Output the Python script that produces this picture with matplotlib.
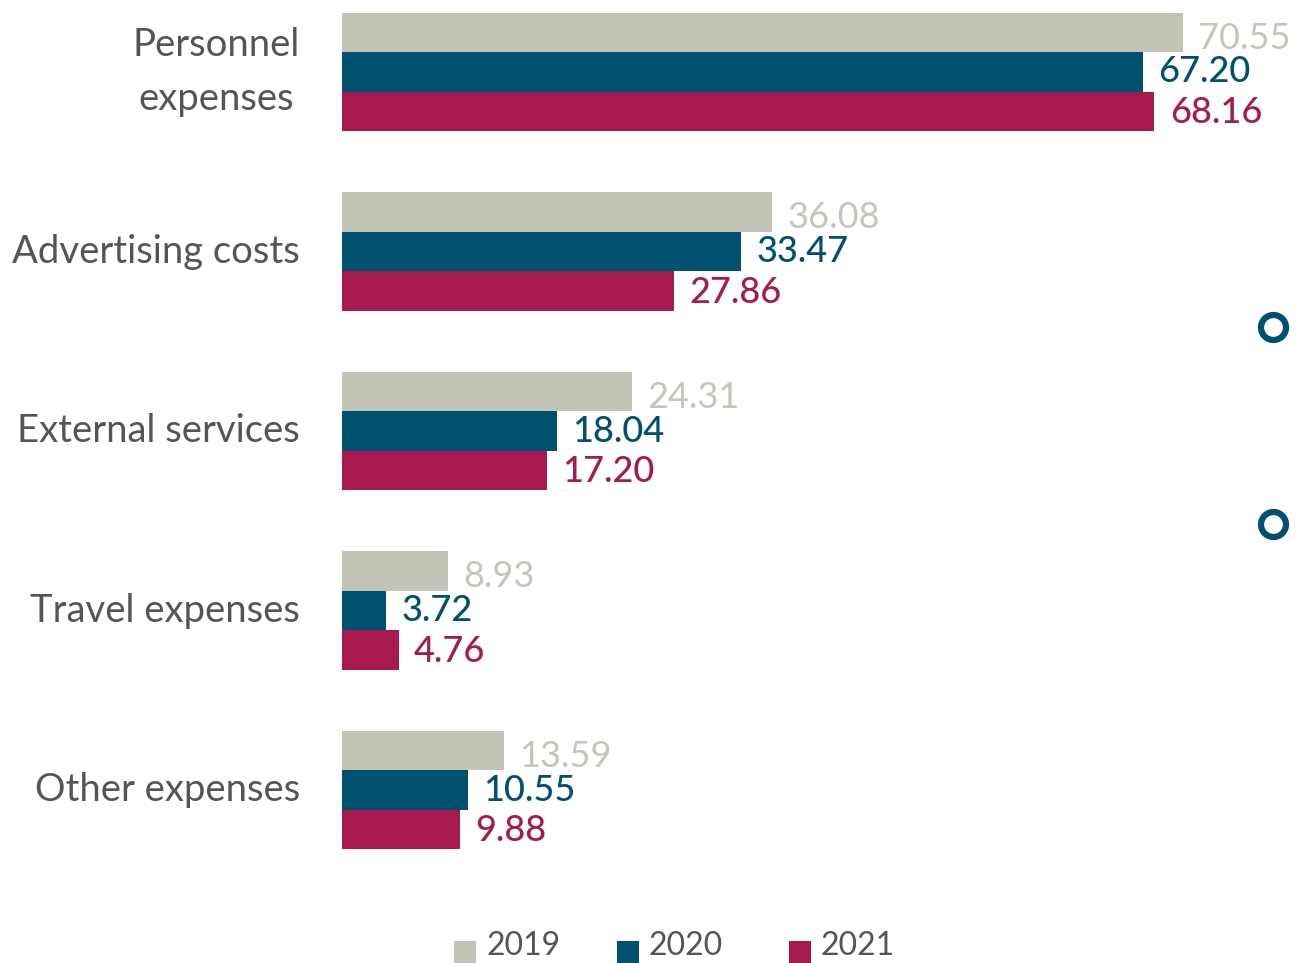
import matplotlib
matplotlib.use("Agg")
import matplotlib.pyplot as plt
from matplotlib.lines import Line2D
from matplotlib.patches import Rectangle
import numpy as np

categories = ["Personnel\nexpenses", "Advertising costs", "External services",
              "Travel expenses", "Other expenses"]
years = ["2019", "2020", "2021"]
values_2019 = [70.55, 36.08, 24.31, 8.93, 13.59]
values_2020 = [67.20, 33.47, 18.04, 3.72, 10.55]
values_2021 = [68.16, 27.86, 17.20, 4.76, 9.88]

colors = ["#c1c4b6", "#00506f", "#a81a4f"]
label_colors = ["#c4c6b9", "#00506f", "#a81a4f"]
text_gray = "#555555"
FONT = "Lato"

W, H = 1301, 963
fig = plt.figure(figsize=(W / 100, H / 100), dpi=100)
ax = fig.add_axes([342 / W, 0, 1 - 342 / W, 1])

px_per_unit = 11.92
xmax = (W - 342) / px_per_unit
spacing = 179.5
ylim_top = -72 / spacing
ylim_bot = 4 + (H - 790) / spacing
ax.set_xlim(0, xmax)
ax.set_ylim(ylim_bot, ylim_top)

bar_h = 39.5 / spacing
y = np.arange(len(categories))
series = [values_2019, values_2020, values_2021]
dy = [-4, 0, -1]
for i, vals in enumerate(series):
    offs = (i - 1) * bar_h
    ax.barh(y + offs, vals, height=bar_h, color=colors[i], linewidth=0)
    for yy, v in zip(y + offs, vals):
        ax.annotate(f"{v:.2f}", xy=(v, yy), xytext=(11, dy[i]),
                    textcoords="offset points", va="center", ha="left",
                    fontsize=26, color=label_colors[i], family=FONT,
                    fontweight="normal" if i == 0 else "medium")

for yy, cat in zip(y, categories):
    ax.text(-(42 / px_per_unit), yy, cat, ha="right", va="center",
            fontsize=27.5, color=text_gray, family=FONT, fontweight="normal",
            linespacing=1.6, multialignment="center")

ax.axis("off")

# decorative ring markers on the right
for cy in (327, 524):
    fig.add_artist(Line2D([1273 / W], [1 - cy / H], marker="o", markersize=18,
                          markerfacecolor="white", markeredgecolor="#00506f",
                          markeredgewidth=4.5, transform=fig.transFigure))

# legend
leg_x = [454, 617, 789]
for i, yr in enumerate(years):
    fig.add_artist(Rectangle((leg_x[i] / W, 0), 22 / W, 22 / H,
                             transform=fig.transFigure, color=colors[i], lw=0))
    fig.text((leg_x[i] + 32) / W, 2 / H, yr, ha="left", va="bottom",
             fontsize=23, color=text_gray, family=FONT, fontweight="normal")

fig.savefig("out.png", dpi=100)
